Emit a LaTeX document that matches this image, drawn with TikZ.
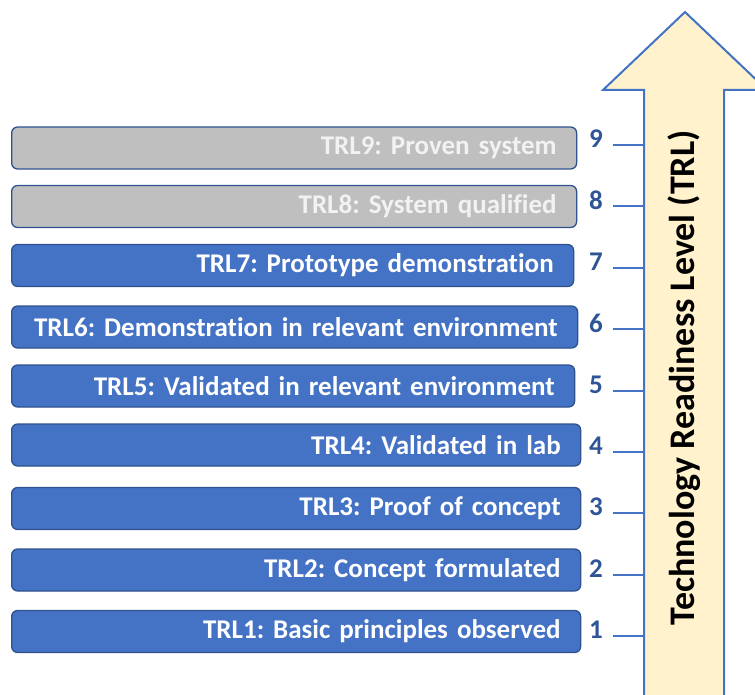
\documentclass[tikz,border=0pt]{standalone}
\usepackage{fontspec}
\setmainfont{Carlito}[Ligatures=NoCommon]
\frenchspacing
\definecolor{barblue}{HTML}{4472C4}
\definecolor{barborder}{HTML}{2F528F}
\definecolor{bargrey}{HTML}{BFBFBF}
\definecolor{greytext}{HTML}{F2F2F2}
\definecolor{arrowfill}{HTML}{FFF2CC}
\definecolor{numcol}{HTML}{2F5597}
\tikzset{
  bar/.style={rounded corners=6pt, draw=barborder, line width=1.3pt,
    minimum height=42pt, anchor=west, text width=#1, align=right,
    inner xsep=20pt, inner ysep=0pt, font=\bfseries\fontsize{27}{30}\selectfont},
  bluebar/.style={bar=#1, fill=barblue, text=white},
  greybar/.style={bar=#1, fill=bargrey, text=greytext},
  num/.style={font=\bfseries\fontsize{27}{30}\selectfont, text=numcol, inner sep=0pt},
  tick/.style={draw=barblue, line width=2pt},
}
\begin{document}
\begin{tikzpicture}[x=1pt,y=-1pt]
\useasboundingbox (0,0) rectangle (755,695);
\clip (0,0) rectangle (755,695);
% arrow
\draw[fill=arrowfill, draw=barblue, line width=2pt]
  (644,710) -- (644,90) -- (603,90) -- (685,12) -- (767,90) -- (724,90) -- (724,710) -- cycle;
\node[rotate=90, font=\bfseries\fontsize{36}{40}\selectfont] (title) at (684,378) {Technology Readiness Level (TRL)};
% bars
\node[greybar=525pt] (b9) at (11,148) {TRL9: Proven system};
\node[greybar=525pt] (b8) at (11,206.5) {TRL8: System qualified};
\node[bluebar=522pt] (b7) at (11,265.5) {TRL7: Prototype demonstration};
\node[bluebar=526pt] (b6) at (11,327) {TRL6: Demonstration in relevant environment};
\node[bluebar=523pt] (b5) at (11,386) {TRL5: Validated in relevant environment};
\node[bluebar=529pt] (b4) at (11,445) {TRL4: Validated in lab};
\node[bluebar=529pt] (b3) at (11,508.5) {TRL3: Proof of concept};
\node[bluebar=529pt] (b2) at (11,570) {TRL2: Concept formulated};
\node[bluebar=529pt] (b1) at (11,631.5) {TRL1: Basic principles observed};
% numbers and ticks
\foreach \i/\y in {9/145,8/206,7/267.5,6/329,5/391,4/452,3/513,2/575,1/636}{
  \node[num] (n\i) at (596,\y-6) {\i};
  \coordinate (ts\i) at (613,\y);
  \coordinate (te\i) at (644,\y);
  \draw[tick] (ts\i) -- (te\i);
}
\end{tikzpicture}
\end{document}
